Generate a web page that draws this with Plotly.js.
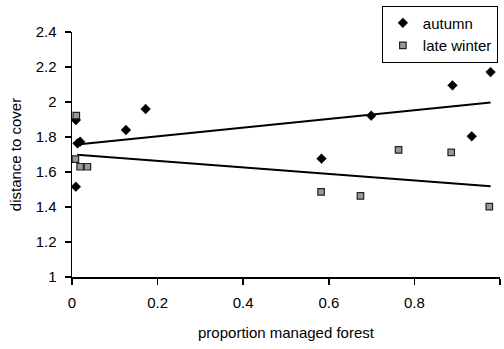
<!DOCTYPE html>
<html><head><meta charset="utf-8">
<script src="https://cdn.plot.ly/plotly-3.0.1.min.js"></script>
<style>html,body{margin:0;padding:0;background:#fff}#c{width:504px;height:349px}</style>
</head><body><div id="c"></div>
<script>
const autumnX = [0.009, 0.013, 0.019, 0.009, 0.126, 0.172, 0.583, 0.699, 0.889, 0.978, 0.934];
const autumnY = [1.897, 1.764, 1.773, 1.516, 1.84, 1.96, 1.676, 1.922, 2.095, 2.171, 1.804];
const winterX = [0.01, 0.008, 0.019, 0.036, 0.582, 0.763, 0.886, 0.674, 0.975];
const winterY = [1.922, 1.674, 1.63, 1.63, 1.486, 1.726, 1.712, 1.463, 1.402];
const trendX = [0.012, 0.978];
const autumnTrend = [1.757, 1.997];
const winterTrend = [1.699, 1.519];
const xTicks = [0, 0.2, 0.4, 0.6, 0.8, 1];
const xTickText = ['0', '0.2', '0.4', '0.6', '0.8', '1'];
const yTicks = [1, 1.2, 1.4, 1.6, 1.8, 2, 2.2, 2.4];
const yTickText = ['1', '1.2', '1.4', '1.6', '1.8', '2', '2.2', '2.4'];

const font = {family: 'Liberation Sans, Arial, sans-serif', color: '#000'};
const f = s => Object.assign({size: s}, font);
const data = [
  {x: trendX, y: autumnTrend, mode: 'lines', line: {color: '#000', width: 2}, showlegend: false, hoverinfo: 'skip'},
  {x: trendX, y: winterTrend, mode: 'lines', line: {color: '#000', width: 2}, showlegend: false, hoverinfo: 'skip'},
  {x: autumnX, y: autumnY, mode: 'markers', name: 'autumn',
   marker: {symbol: 'diamond', size: 7.5, color: '#000', line: {color: '#000', width: 0.5}}},
  {x: winterX, y: winterY, mode: 'markers', name: 'late winter',
   marker: {symbol: 'square', size: 6.5, color: '#999999', line: {color: '#222', width: 1.2}}}
];
const layout = {
  width: 504, height: 349,
  margin: {l: 72, r: 4, t: 32, b: 72},
  paper_bgcolor: '#fff', plot_bgcolor: '#fff',
  font: f(15),
  showlegend: true,
  legend: {x: 0.995, y: 1.108, xanchor: 'right', yanchor: 'top', bgcolor: '#fff',
           bordercolor: '#000', borderwidth: 1, font: f(15), tracegroupgap: 0},
  xaxis: {range: [0, 1], tickvals: xTicks, ticktext: xTickText, showgrid: false, zeroline: false,
          showline: true, linecolor: '#000', linewidth: 1.5, ticks: 'outside', ticklen: 6, tickcolor: '#000',
          tickwidth: 1.5, ticklabelstandoff: 5, tickfont: f(15),
          title: {text: 'proportion managed forest', font: f(15), standoff: 18}},
  yaxis: {range: [1, 2.4], tickvals: yTicks, ticktext: yTickText, showgrid: false, zeroline: false,
          showline: true, linecolor: '#000', linewidth: 1.5, ticks: 'outside', ticklen: 6, tickcolor: '#000',
          tickwidth: 1.5, ticklabelstandoff: 5, tickfont: f(15),
          title: {text: 'distance to cover', font: f(15), standoff: 10}}
};
Plotly.newPlot('c', data, layout, {displayModeBar: false, staticPlot: true});
</script></body></html>
